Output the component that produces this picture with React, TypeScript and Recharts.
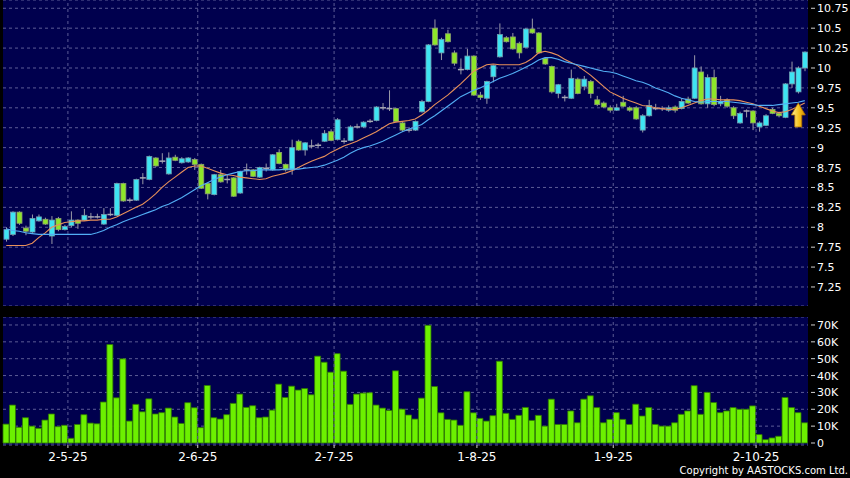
import React from "react";
import {
  ComposedChart,
  BarChart,
  Bar,
  Line,
  XAxis,
  YAxis,
  CartesianGrid,
  ReferenceLine,
  ReferenceDot,
} from "recharts";

// daily OHLC, one entry per trading day (late Apr -> mid Oct 2025)
const opens = [
  7.85, 7.91, 8.19, 7.99, 7.94, 8.08, 8.10, 7.89, 8.11, 7.97,
  8.02, 8.09, 8.09, 8.13, 8.13, 8.04, 8.16, 8.15, 8.55, 8.34,
  8.34, 8.62, 8.60, 8.87, 8.83, 8.67, 8.88, 8.81, 8.82, 8.85,
  8.79, 8.55, 8.41, 8.66, 8.60, 8.62, 8.43, 8.72, 8.72, 8.63,
  8.74, 8.72, 8.94, 8.79, 8.72, 9.08, 8.97, 9.02, 9.03, 9.08,
  9.20, 9.10, 9.08, 9.09, 9.26, 9.26, 9.33, 9.34, 9.50, 9.49,
  9.49, 9.31, 9.22, 9.22, 9.45, 9.58, 10.50, 10.19, 10.43, 10.19,
  9.98, 9.98, 10.15, 9.66, 9.62, 9.89, 10.14, 10.38, 10.39, 10.31,
  10.26, 10.49, 10.44, 10.12, 10.02, 9.68, 9.63, 9.62, 9.86, 9.77,
  9.83, 9.60, 9.56, 9.50, 9.47, 9.57, 9.50, 9.50, 9.22, 9.40,
  9.49, 9.49, 9.47, 9.51, 9.49, 9.61, 9.62, 9.95, 9.55, 9.88,
  9.55, 9.60, 9.50, 9.31, 9.46, 9.46, 9.26, 9.28, 9.48, 9.43,
  9.38, 9.80, 9.70, 10.00,
];
const highs = [
  8.00, 8.20, 8.20, 8.02, 8.16, 8.16, 8.12, 8.14, 8.13, 8.03,
  8.20, 8.10, 8.23, 8.18, 8.17, 8.24, 8.24, 8.56, 8.56, 8.37,
  8.61, 8.68, 8.90, 8.88, 8.93, 8.94, 8.91, 8.88, 8.88, 8.87,
  8.80, 8.56, 8.67, 8.72, 8.66, 8.63, 8.71, 8.80, 8.73, 8.76,
  8.80, 8.92, 8.98, 8.80, 9.10, 9.10, 9.07, 9.10, 9.06, 9.22,
  9.23, 9.37, 9.12, 9.28, 9.30, 9.33, 9.36, 9.52, 9.56, 9.72,
  9.50, 9.32, 9.26, 9.34, 9.60, 10.30, 10.61, 10.38, 10.48, 10.22,
  10.12, 10.24, 10.16, 9.70, 9.84, 10.04, 10.56, 10.40, 10.44, 10.33,
  10.50, 10.62, 10.45, 10.13, 10.03, 9.80, 9.66, 9.98, 9.88, 9.90,
  9.85, 9.65, 9.58, 9.53, 9.55, 9.65, 9.52, 9.52, 9.42, 9.60,
  9.55, 9.52, 9.53, 9.53, 9.62, 9.64, 10.16, 10.02, 9.92, 9.98,
  9.65, 9.62, 9.52, 9.45, 9.48, 9.47, 9.33, 9.42, 9.50, 9.45,
  9.81, 10.08, 10.02, 10.21,
];
const lows = [
  7.82, 7.89, 8.03, 7.90, 7.93, 8.07, 8.03, 7.79, 7.95, 7.96,
  8.00, 7.98, 8.08, 8.10, 8.11, 8.03, 8.14, 8.14, 8.32, 8.31,
  8.33, 8.54, 8.59, 8.76, 8.80, 8.66, 8.83, 8.80, 8.81, 8.72,
  8.48, 8.35, 8.40, 8.56, 8.55, 8.38, 8.42, 8.66, 8.63, 8.62,
  8.70, 8.71, 8.79, 8.70, 8.66, 8.96, 8.90, 8.99, 8.99, 9.07,
  9.08, 9.09, 9.05, 9.08, 9.24, 9.25, 9.31, 9.33, 9.47, 9.46,
  9.32, 9.20, 9.19, 9.21, 9.44, 9.57, 10.28, 10.10, 10.32, 10.03,
  9.92, 9.97, 9.65, 9.60, 9.55, 9.82, 10.13, 10.32, 10.23, 10.12,
  10.25, 10.43, 10.18, 10.04, 9.68, 9.62, 9.58, 9.61, 9.67, 9.72,
  9.62, 9.52, 9.50, 9.44, 9.46, 9.51, 9.45, 9.35, 9.19, 9.39,
  9.47, 9.46, 9.45, 9.44, 9.48, 9.55, 9.61, 9.54, 9.50, 9.52,
  9.52, 9.50, 9.36, 9.30, 9.38, 9.22, 9.20, 9.27, 9.42, 9.38,
  9.37, 9.75, 9.68, 9.96,
];
const closes = [
  7.97, 8.19, 8.05, 7.95, 8.11, 8.13, 8.04, 8.09, 7.97, 8.01,
  8.09, 8.05, 8.15, 8.13, 8.13, 8.16, 8.16, 8.55, 8.33, 8.34,
  8.60, 8.62, 8.89, 8.77, 8.83, 8.87, 8.84, 8.86, 8.87, 8.79,
  8.49, 8.42, 8.66, 8.57, 8.60, 8.39, 8.70, 8.72, 8.64, 8.75,
  8.74, 8.91, 8.80, 8.72, 9.00, 8.97, 9.06, 9.02, 9.03, 9.18,
  9.09, 9.35, 9.08, 9.26, 9.26, 9.32, 9.33, 9.51, 9.50, 9.49,
  9.33, 9.22, 9.22, 9.33, 9.58, 10.29, 10.29, 10.36, 10.33, 10.06,
  9.98, 10.15, 9.66, 9.63, 9.83, 10.03, 10.42, 10.33, 10.24, 10.19,
  10.49, 10.44, 10.19, 10.05, 9.70, 9.79, 9.63, 9.87, 9.68, 9.86,
  9.68, 9.54, 9.51, 9.47, 9.50, 9.52, 9.47, 9.36, 9.40, 9.53,
  9.49, 9.49, 9.50, 9.47, 9.58, 9.56, 10.00, 9.55, 9.88, 9.54,
  9.58, 9.52, 9.40, 9.43, 9.46, 9.31, 9.31, 9.40, 9.43, 9.40,
  9.80, 9.95, 10.00, 10.20,
];
// volume in thousands of shares
const volumes = [
  11.2, 22.5, 9.3, 15, 10, 8.7, 13.6, 17.2, 9.7, 10.5,
  2.8, 11, 16.8, 11.8, 11.4, 24.3, 58.4, 26.8, 49.9, 13,
  22.9, 18.5, 26.2, 17.2, 18, 20.7, 15.4, 11.6, 23.9, 20.9,
  9.1, 34.1, 15, 14.2, 16.8, 23.5, 29, 21.1, 22.1, 15,
  15.4, 19.5, 34.9, 27, 33.7, 31.4, 32.3, 28.6, 51.5, 47.9,
  42, 53, 42.6, 22.9, 29, 29.6, 29.8, 22.5, 20.7, 19.3,
  42.8, 20.1, 16.6, 14.2, 26.6, 69.8, 33.5, 17.9, 14, 13.6,
  10.5, 30.4, 17.9, 14.6, 13, 16.2, 48.5, 17.6, 14, 16.4,
  21.1, 13.4, 16.4, 10, 26, 11, 11, 19, 12, 26,
  28, 21, 12, 14, 18, 14, 11, 23, 16, 21,
  11, 10, 10, 12, 17, 19, 34, 17, 30, 24,
  18, 19, 21, 20, 20, 22, 5, 2, 3, 4,
  27, 21, 18, 12,
];
// moving averages as drawn on the chart
const ma10 = [
  7.77, 7.77, 7.77, 7.77, 7.80, 7.87, 7.93, 8.00, 8.03, 8.06,
  8.07, 8.08, 8.08, 8.09, 8.09, 8.10, 8.10, 8.13, 8.17, 8.21,
  8.25, 8.29, 8.35, 8.42, 8.50, 8.57, 8.63, 8.69, 8.75, 8.77,
  8.77, 8.74, 8.71, 8.68, 8.66, 8.65, 8.63, 8.62, 8.61, 8.60,
  8.61, 8.64, 8.66, 8.68, 8.71, 8.75, 8.79, 8.83, 8.86, 8.89,
  8.94, 8.98, 9.02, 9.05, 9.08, 9.12, 9.16, 9.20, 9.25, 9.30,
  9.32, 9.33, 9.34, 9.36, 9.41, 9.47, 9.54, 9.60, 9.66, 9.73,
  9.80, 9.88, 9.96, 10.00, 10.04, 10.05, 10.04, 10.04, 10.04, 10.04,
  10.07, 10.12, 10.19, 10.21, 10.19, 10.16, 10.11, 10.07, 10.03, 9.97,
  9.91, 9.84, 9.77, 9.70, 9.66, 9.62, 9.59, 9.56, 9.53, 9.52,
  9.50, 9.49, 9.48, 9.48, 9.50, 9.53, 9.56, 9.59, 9.61, 9.61,
  9.60, 9.60, 9.60, 9.59, 9.57, 9.55, 9.52, 9.49, 9.46, 9.44,
  9.45, 9.48, 9.52, 9.56,
];
const ma20 = [
  7.98, 7.96, 7.95, 7.93, 7.92, 7.91, 7.91, 7.91, 7.91, 7.91,
  7.91, 7.91, 7.91, 7.91, 7.93, 7.96, 8.00, 8.03, 8.07, 8.10,
  8.13, 8.16, 8.19, 8.22, 8.26, 8.29, 8.33, 8.37, 8.42, 8.47,
  8.52, 8.56, 8.60, 8.63, 8.66, 8.68, 8.70, 8.71, 8.71, 8.72,
  8.72, 8.72, 8.72, 8.73, 8.73, 8.73, 8.74, 8.75, 8.76, 8.78,
  8.81, 8.84, 8.88, 8.93, 8.97, 9.00, 9.02, 9.05, 9.08, 9.12,
  9.16, 9.20, 9.23, 9.26, 9.29, 9.35, 9.40, 9.46, 9.52, 9.58,
  9.64, 9.68, 9.72, 9.75, 9.79, 9.83, 9.87, 9.90, 9.93, 9.97,
  10.01, 10.05, 10.10, 10.13, 10.13, 10.11, 10.08, 10.06, 10.04, 10.02,
  10.00, 9.98, 9.96, 9.95, 9.93, 9.90, 9.87, 9.84, 9.82, 9.79,
  9.75, 9.72, 9.69, 9.65, 9.62, 9.60, 9.58, 9.57, 9.58, 9.58,
  9.58, 9.58, 9.57, 9.56, 9.55, 9.54, 9.53, 9.53, 9.53, 9.54,
  9.55, 9.56, 9.57, 9.59,
];

const monthStarts = [10, 30, 51, 73, 94, 116];
const monthLabels = ["2-5-25", "2-6-25", "2-7-25", "1-8-25", "1-9-25", "2-10-25"];
const priceTicks = [7.25, 7.5, 7.75, 8, 8.25, 8.5, 8.75, 9, 9.25, 9.5, 9.75, 10, 10.25, 10.5, 10.75];
const volumeTicks = [0, 10, 20, 30, 40, 50, 60, 70];

const data = opens.map((open, i) => ({
  i,
  open,
  high: highs[i],
  low: lows[i],
  close: closes[i],
  range: [lows[i], highs[i]],
  vol: volumes[i],
  ma10: ma10[i],
  ma20: ma20[i],
}));

const NAVY = "#00004e";
const GRID = "#5c5c96";
const FONT = "'DejaVu Sans', Verdana, sans-serif";

function Candle(props: any) {
  const { x, y, width, height, payload } = props;
  if (!payload) return null;
  const top = Math.min(y, y + height);
  const h = Math.abs(height);
  const { open, close, high, low } = payload;
  const toY = (v: number) => top + ((high - v) / (high - low)) * h;
  const cx = x + width / 2;
  const yo = toY(open);
  const yc = toY(close);
  const bodyTop = Math.min(yo, yc);
  const bodyH = Math.abs(yc - yo);
  const up = close > open;
  const flat = Math.abs(close - open) < 0.005;
  return (
    <g>
      <line x1={cx} x2={cx} y1={top} y2={top + h} stroke="#9a9aa8" strokeWidth={1} />
      {flat ? (
        <line x1={x - 0.5} x2={x + width + 0.5} y1={yo} y2={yo} stroke="#a8a8b4" strokeWidth={1.5} />
      ) : (
        <rect
          x={x}
          y={bodyTop}
          width={width}
          height={Math.max(bodyH, 1.5)}
          fill={up ? "#3ee4f2" : "#8ee62a"}
          stroke={up ? "#6f9fb0" : "#8c9e70"}
          strokeWidth={0.8}
        />
      )}
    </g>
  );
}

function PriceTick(props: any) {
  const { y, payload } = props;
  return (
    <g>
      <line x1={811} x2={815} y1={y} y2={y} stroke="#d0d0d0" />
      <text x={817} y={y} dy={4} fill="#ffffff" fontSize={11} fontFamily={FONT}>
        {String(payload.value)}
      </text>
    </g>
  );
}

function VolumeTick(props: any) {
  const { y, payload } = props;
  return (
    <g>
      <line x1={811} x2={815} y1={y} y2={y} stroke="#d0d0d0" />
      <text x={817} y={y} dy={4} fill="#ffffff" fontSize={11} fontFamily={FONT}>
        {payload.value === 0 ? "0" : `${payload.value}K`}
      </text>
    </g>
  );
}

function DateTick(props: any) {
  const { x, payload } = props;
  const k = monthStarts.indexOf(payload.value);
  const px = x - 805 / data.length / 2;
  return (
    <g>
      <line x1={px} x2={px} y1={128} y2={131} stroke="#d0d0d0" />
      <text x={px} y={144} textAnchor="middle" fill="#ffffff" fontSize={12} fontFamily={FONT}>
        {monthLabels[k]}
      </text>
    </g>
  );
}

function Arrow(props: any) {
  const { cx, cy } = props;
  const pts = [
    [cx, cy - 12],
    [cx + 7, cy],
    [cx + 3.5, cy],
    [cx + 3.5, cy + 12],
    [cx - 3.5, cy + 12],
    [cx - 3.5, cy],
    [cx - 7, cy],
  ]
    .map((p) => p.join(","))
    .join(" ");
  return (
    <g>
      <defs>
        <linearGradient id="arrowFill" x1="0" y1="0" x2="1" y2="0">
          <stop offset="0%" stopColor="#fff3a0" />
          <stop offset="55%" stopColor="#f5c21c" />
          <stop offset="100%" stopColor="#d08a00" />
        </linearGradient>
      </defs>
      <polygon points={pts} fill="url(#arrowFill)" stroke="#b07000" strokeWidth={0.8} />
    </g>
  );
}

export default function App() {
  return (
    <div
      style={{
        position: "fixed",
        left: 0,
        top: 0,
        width: 850,
        height: 478,
        background: "#000000",
        overflow: "hidden",
        fontFamily: FONT,
      }}
    >
      <div style={{ position: "absolute", left: 0, top: 0 }}>
        <ComposedChart
          width={850}
          height={306}
          data={data}
          margin={{ top: 0, right: 0, bottom: 0, left: 3 }}
          barCategoryGap={0}
        >
          <CartesianGrid
            vertical={false}
            stroke={GRID}
            strokeDasharray="3 3"
            fill={NAVY}
            fillOpacity={1}
          />
          <XAxis dataKey="i" type="category" hide />
          <YAxis
            orientation="right"
            width={42}
            domain={[7.011, 10.854]}
            ticks={priceTicks}
            interval={0}
            tick={<PriceTick />}
            tickLine={false}
            axisLine={false}
          />
          {monthStarts.map((m) => (
            <ReferenceLine
              key={m}
              x={m}
              position="start"
              stroke={GRID}
              strokeDasharray="3 3"
            />
          ))}
          <Bar dataKey="range" barSize={5} shape={<Candle />} isAnimationActive={false} />
          <Line
            dataKey="ma10"
            type="linear"
            stroke="#e8905a"
            strokeWidth={1.1}
            dot={false}
            activeDot={false}
            isAnimationActive={false}
          />
          <Line
            dataKey="ma20"
            type="linear"
            stroke="#52aef5"
            strokeWidth={1.1}
            dot={false}
            activeDot={false}
            isAnimationActive={false}
          />
          <ReferenceDot x={122} y={9.41} r={0} shape={<Arrow />} />
        </ComposedChart>
      </div>
      <div style={{ position: "absolute", left: 0, top: 317 }}>
        <BarChart
          width={850}
          height={161}
          data={data}
          margin={{ top: 0, right: 0, bottom: 3, left: 3 }}
          barCategoryGap={0}
        >
          <CartesianGrid
            vertical={false}
            stroke={GRID}
            strokeDasharray="3 3"
            fill={NAVY}
            fillOpacity={1}
          />
          <XAxis
            dataKey="i"
            type="category"
            height={30}
            ticks={monthStarts}
            interval={0}
            tick={<DateTick />}
            tickLine={false}
            axisLine={false}
          />
          <YAxis
            orientation="right"
            width={42}
            domain={[-1.186, 74.73]}
            ticks={volumeTicks}
            interval={0}
            tick={<VolumeTick />}
            tickLine={false}
            axisLine={false}
          />
          {monthStarts.map((m) => (
            <ReferenceLine
              key={m}
              x={m}
              position="start"
              stroke={GRID}
              strokeDasharray="3 3"
            />
          ))}
          <Bar
            dataKey="vol"
            barSize={6}
            fill="#6cf000"
            stroke="#2f7a00"
            strokeWidth={0.8}
            isAnimationActive={false}
          />
        </BarChart>
      </div>
      <div
        style={{
          position: "absolute",
          right: 2,
          top: 465,
          color: "#ffffff",
          fontSize: 10,
          lineHeight: "12px",
          fontFamily: FONT,
          whiteSpace: "nowrap",
        }}
      >
        Copyright by AASTOCKS.com Ltd.
      </div>
    </div>
  );
}
